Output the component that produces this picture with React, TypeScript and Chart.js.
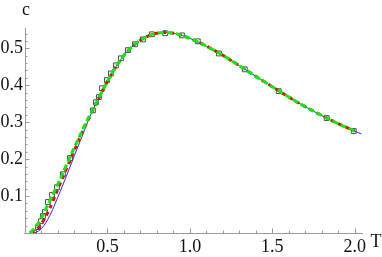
import React, { useEffect, useRef } from "react";
import { Chart, registerables } from "chart.js";

Chart.register(...registerables);

// Blue solid curve
const blueT = [0.06, 0.1, 0.15, 0.2, 0.25, 0.3, 0.35, 0.4, 0.45, 0.5, 0.55, 0.6, 0.65, 0.7, 0.75, 0.8, 0.85, 0.9, 0.95, 1.0, 1.1, 1.2, 1.3, 1.4, 1.5, 1.6, 1.7, 1.8, 1.9, 2.0, 2.04];
const blueC = [0, 0.012, 0.047, 0.098, 0.153, 0.21, 0.266, 0.322, 0.368, 0.41, 0.449, 0.481, 0.505, 0.522, 0.534, 0.541, 0.543, 0.541, 0.535, 0.527, 0.506, 0.481, 0.453, 0.424, 0.396, 0.368, 0.342, 0.318, 0.296, 0.276, 0.268];

// Red dashed curve
const redT = [0.05, 0.08, 0.11, 0.14, 0.17, 0.2, 0.25, 0.3, 0.35, 0.4, 0.45, 0.5, 0.55, 0.6, 0.65, 0.7, 0.75, 0.8, 0.85, 0.9, 0.95, 1.0, 1.1, 1.2, 1.3, 1.4, 1.5, 1.6, 1.7, 1.8, 1.9, 2.0];
const redC = [0, 0.013, 0.032, 0.057, 0.087, 0.12, 0.172, 0.224, 0.275, 0.322, 0.368, 0.41, 0.449, 0.481, 0.505, 0.522, 0.534, 0.541, 0.543, 0.541, 0.535, 0.527, 0.506, 0.481, 0.453, 0.424, 0.396, 0.368, 0.342, 0.318, 0.296, 0.276];

// Green dashed curve
const greenT = [0.03, 0.06, 0.09, 0.12, 0.15, 0.2, 0.25, 0.3, 0.35, 0.4, 0.45, 0.5, 0.55, 0.6, 0.65, 0.7, 0.75, 0.8, 0.85, 0.9, 0.95, 1.0, 1.1, 1.2, 1.3, 1.4, 1.5, 1.6, 1.7, 1.8, 1.9, 2.0];
const greenC = [0, 0.014, 0.033, 0.06, 0.087, 0.133, 0.183, 0.232, 0.28, 0.325, 0.368, 0.41, 0.449, 0.481, 0.505, 0.522, 0.534, 0.541, 0.543, 0.541, 0.535, 0.527, 0.506, 0.481, 0.453, 0.424, 0.396, 0.368, 0.342, 0.318, 0.296, 0.276];

// Square markers
const sqT = [0.055, 0.079, 0.097, 0.109, 0.121, 0.139, 0.164, 0.194, 0.23, 0.273, 0.412, 0.43, 0.448, 0.467, 0.497, 0.521, 0.552, 0.582, 0.624, 0.667, 0.715, 0.77, 0.85, 0.952, 1.048, 1.176, 1.333, 1.539, 1.83, 1.994];
const sqC = [0.0, 0.016, 0.032, 0.046, 0.057, 0.084, 0.103, 0.124, 0.159, 0.203, 0.332, 0.354, 0.368, 0.392, 0.414, 0.432, 0.454, 0.473, 0.495, 0.511, 0.524, 0.538, 0.541, 0.535, 0.519, 0.486, 0.443, 0.384, 0.311, 0.276];

const xTickLabels = [0.5, 1.0, 1.5, 2.0];
const yTickLabels = [0.1, 0.2, 0.3, 0.4, 0.5];
const xMinor = [0.1, 0.2, 0.3, 0.4, 0.5, 0.6, 0.7, 0.8, 0.9, 1.0, 1.1, 1.2, 1.3, 1.4, 1.5, 1.6, 1.7, 1.8, 1.9, 2.0];
const yMinor = [0.02, 0.04, 0.06, 0.08, 0.1, 0.12, 0.14, 0.16, 0.18, 0.2, 0.22, 0.24, 0.26, 0.28, 0.3, 0.32, 0.34, 0.36, 0.38, 0.4, 0.42, 0.44, 0.46, 0.48, 0.5, 0.52, 0.54];

const zip = (xs: number[], ys: number[]) => xs.map((x, i) => ({ x, y: ys[i] }));

const FONT = "Liberation Serif";
const AXIS = "#9a9a9a";

const axesPlugin = {
  id: "mmaAxes",
  afterDraw(chart: any) {
    const { ctx, chartArea } = chart;
    const xs = chart.scales.x;
    const ys = chart.scales.y;
    const x0 = xs.getPixelForValue(0);
    const y0 = ys.getPixelForValue(0);
    ctx.save();
    ctx.strokeStyle = AXIS;
    ctx.lineWidth = 1;
    ctx.beginPath();
    ctx.moveTo(chartArea.left - 1, y0 + 0.5);
    ctx.lineTo(chartArea.right, y0 + 0.5);
    ctx.moveTo(x0 + 0.5, chartArea.top);
    ctx.lineTo(x0 + 0.5, y0 + 0.5);
    xMinor.forEach((v) => {
      const p = Math.round(xs.getPixelForValue(v)) + 0.5;
      const major = xTickLabels.some((m) => Math.abs(m - v) < 1e-9);
      ctx.moveTo(p, y0);
      ctx.lineTo(p, y0 - (major ? 4.5 : 2.5));
    });
    yMinor.forEach((v) => {
      const p = Math.round(ys.getPixelForValue(v)) + 0.5;
      const major = yTickLabels.some((m) => Math.abs(m - v) < 1e-9);
      ctx.moveTo(x0, p);
      ctx.lineTo(x0 + (major ? 4.5 : 2.5), p);
    });
    ctx.stroke();
    ctx.fillStyle = "#111";
    ctx.font = `18px ${FONT}`;
    ctx.textAlign = "center";
    ctx.textBaseline = "alphabetic";
    ctx.fillText("c", x0 + 1, 15);
    ctx.fillText("T", 376, 247);
    ctx.restore();
  },
};

export default function App() {
  const ref = useRef<HTMLCanvasElement>(null);
  useEffect(() => {
    let chart: any = null;
    let cancelled = false;
    const make = () => {
      if (cancelled || !ref.current) return;
      chart = new Chart(ref.current as HTMLCanvasElement, {
        type: "scatter",
        data: {
          datasets: [
            {
              data: zip(greenT, greenC),
              showLine: true,
              borderColor: "#00f000",
              borderWidth: 3,
              borderDash: [6, 3],
              pointRadius: 0,
              tension: 0.4,
              order: 1,
            },
            {
              data: zip(redT, redC),
              showLine: true,
              borderColor: "#ff0000",
              borderWidth: 3,
              borderDash: [4, 4],
              borderDashOffset: 2,
              pointRadius: 0,
              tension: 0.4,
              order: 2,
            },
            {
              data: zip(blueT, blueC),
              showLine: true,
              borderColor: "#2b2bff",
              borderWidth: 1,
              pointRadius: 0,
              tension: 0.4,
              order: 3,
            },
            {
              data: zip(sqT, sqC),
              showLine: false,
              pointStyle: "rect",
              pointRadius: 3.4,
              pointBorderWidth: 1,
              pointBorderColor: "#4a4a66",
              pointBackgroundColor: "rgba(0,0,0,0)",
              order: 4,
            },
          ],
        },
        options: {
          responsive: false,
          animation: false,
          layout: { padding: { left: 0, right: 19, top: 28, bottom: 0 } },
          plugins: { legend: { display: false }, tooltip: { enabled: false } },
          scales: {
            x: {
              type: "linear",
              min: 0,
              max: 2.05,
              grid: { display: false, drawTicks: false },
              border: { display: false },
              afterFit: (s: any) => {
                s.height = 24;
              },
              afterBuildTicks: (s: any) => {
                s.ticks = xTickLabels.map((v) => ({ value: v }));
              },
              ticks: {
                padding: 3,
                color: "#111",
                font: { family: FONT, size: 18 },
                callback: (v: any) => Number(v).toFixed(1),
                maxRotation: 0,
              },
            },
            y: {
              type: "linear",
              min: 0,
              max: 0.555,
              grid: { display: false, drawTicks: false },
              border: { display: false },
              afterFit: (s: any) => {
                s.width = 25;
              },
              afterBuildTicks: (s: any) => {
                s.ticks = yTickLabels.map((v) => ({ value: v }));
              },
              ticks: {
                padding: 2,
                color: "#111",
                font: { family: FONT, size: 18 },
                callback: (v: any) => Number(v).toFixed(1),
              },
            },
          },
        },
        plugins: [axesPlugin],
      } as any);
    };
    make();
    return () => {
      cancelled = true;
      if (chart) chart.destroy();
    };
  }, []);
  return (
    <div style={{ position: "absolute", left: 0, top: 0, width: 382, height: 257, background: "#fff", fontFamily: "Liberation Serif" }}>
      <canvas ref={ref} width={382} height={257} />
    </div>
  );
}
